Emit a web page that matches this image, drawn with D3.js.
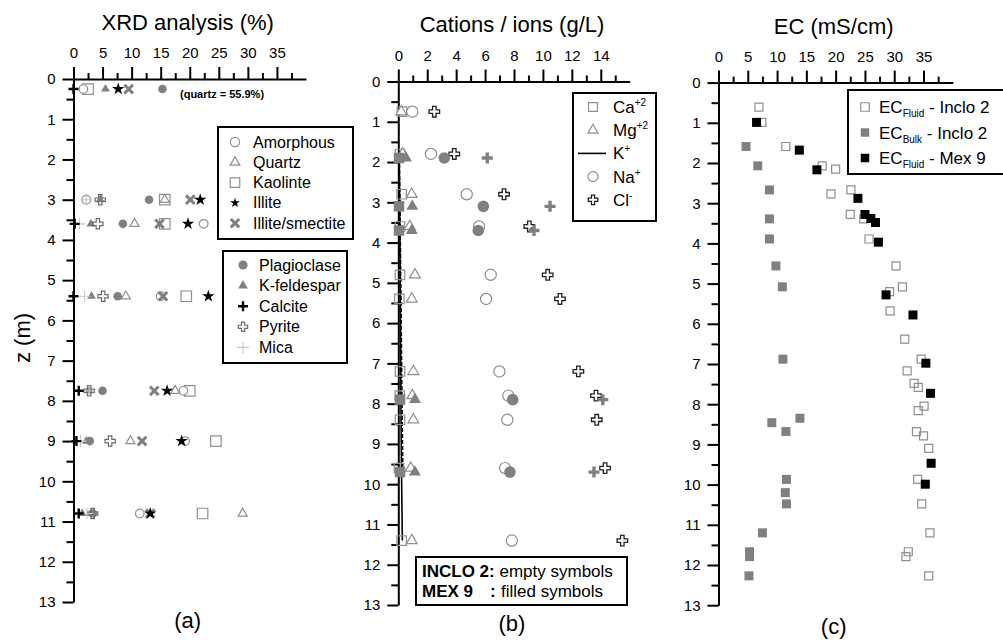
<!DOCTYPE html>
<html><head><meta charset="utf-8">
<script src="https://cdn.jsdelivr.net/npm/d3@7"></script>
<style>
body{margin:0;background:#fff;}
svg{display:block;font-family:"Liberation Sans",Arial,sans-serif;}
</style></head><body>
<svg id="fig" width="1003" height="644"></svg>
<script>
// ---------- (a) XRD mineralogy (%) by depth ----------
const xrdDepth       = [0.25, 3.0, 3.6, 5.4, 7.75, 9.0, 10.8];
const amorphous      = [1.7, 2.2, 22.4, 15.0, 18.9, 19.2, 11.4];
const quartz         = [55.9, 15.7, 10.5, 9.0, 17.5, 9.8, 29.1];
const kaolinite      = [2.5, 15.7, 15.7, 19.4, 20.0, 24.5, 22.2];
const illite         = [7.7, 21.8, 19.7, 23.2, 16.1, 18.6, 13.2];
const illiteSmectite = [9.5, 20.1, 14.8, 15.4, 13.9, 11.8, 13.2];
const plagioclase    = [15.3, 13.0, 8.5, 7.6, 5.0, 2.8, 3.3];
const kFeldspar      = [5.5, 4.6, 3.0, 3.1, 2.7, 2.2, 1.5];
const calcite        = [0.0, null, 0.2, 0.0, 0.9, 0.5, 0.9];
const pyrite         = [null, 4.6, 4.2, 5.1, 2.7, 6.3, 3.3];
const mica           = [null, 2.2, 1.0, 1.9, 2.7, 1.2, 2.3];
const xrdTicks       = [0, 5, 10, 15, 20, 25, 30, 35];

// ---------- (b) cations / ions (g/L) ----------
const incloDepth = [0.75, 1.8, 2.8, 3.6, 4.8, 5.4, 7.2, 7.8, 8.4, 9.6, 11.4];
const caInclo    = [0.25, 0.12, 0.23, 0.12, 0.12, 0.07, 0.12, 0.10, 0.12, 0.05, 0.23];
const mgInclo    = [0.20, 0.30, 0.93, 0.80, 1.15, 0.93, 1.04, 0.97, 1.04, 0.86, 0.93];
const kInclo     = [null, 0.06, 0.09, 0.11, 0.13, 0.14, 0.17, 0.18, 0.19, 0.22, 0.28];
const naInclo    = [0.97, 2.26, 4.73, 5.58, 6.39, 6.07, 6.99, 7.61, 7.54, 7.38, 7.85];
const clInclo    = [2.49, 3.87, 7.31, 9.06, 10.33, 11.18, 12.45, 13.67, 13.72, 14.30, 15.49];
const mexDepth   = [1.9, 3.1, 3.7, 7.9, 9.7];
const caMex      = [0.05, 0.05, 0.05, 0.12, 0.12];
const mgMex      = [0.53, 0.97, 0.93, 1.15, 1.15];
const kMex       = [0.08, 0.12, 0.14, 0.26, 0.32];
const naMex      = [3.18, 5.88, 5.53, 7.91, 7.72];
const clMex      = [6.15, 10.49, 9.38, 14.14, 13.53];
const ionTicks   = [0, 2, 4, 6, 8, 10, 12, 14];

// ---------- (c) electrical conductivity (mS/cm) ----------
const ecFluidIncloDepth = [0.61, 0.99, 1.59, 2.07, 2.15, 2.67, 2.77, 3.28, 3.39, 3.89, 4.56, 5.08, 5.2, 5.68, 6.38,
                           6.88, 7.17, 7.48, 7.58, 8.05, 8.16, 8.68, 8.79, 9.1, 9.87, 10.48, 11.2, 11.67, 11.79, 12.27];
const ecFluidInclo      = [6.9, 7.4, 11.5, 17.7, 20.0, 22.6, 19.2, 22.5, 24.8, 25.7, 30.3, 31.4, 29.2, 29.3, 31.8,
                           34.6, 32.2, 33.4, 34.1, 35.1, 34.1, 33.8, 35.0, 35.9, 34.0, 34.7, 36.1, 32.4, 32.0, 35.9];
const ecBulkIncloDepth  = [1.59, 2.07, 2.67, 3.39, 3.89, 4.56, 5.08, 6.88, 8.35, 8.46, 8.68, 9.87, 10.2, 10.48, 11.2, 11.67, 11.79, 12.27];
const ecBulkInclo       = [4.7, 6.7, 8.7, 8.7, 8.7, 9.8, 10.9, 11.0, 13.9, 9.1, 11.5, 11.6, 11.4, 11.6, 7.5, 5.3, 5.3, 5.2];
const ecFluidMexDepth   = [0.99, 1.68, 2.17, 2.88, 3.28, 3.38, 3.48, 3.97, 5.28, 5.78, 6.98, 7.73, 9.47, 9.99];
const ecFluidMex        = [6.5, 13.8, 16.8, 23.8, 25.0, 26.0, 26.8, 27.3, 28.6, 33.2, 35.4, 36.2, 36.3, 35.3];
const ecTicks           = [0, 5, 10, 15, 20, 25, 30, 35];

const depthTicks = d3.range(0, 14);

const svg = d3.select("#fig");
const GRAY = "#808080", LIGHT = "#8f8f8f", BLACK = "#000";

// ---------- marker factories ----------
function sym(type, size) { return d3.symbol().type(type).size(size)(); }
const plusPath = r => `M${-r},0H${r}M0,${-r}V${r}`;
const xPath = r => `M${-r},${-r}L${r},${r}M${-r},${r}L${r},${-r}`;

const markers = {
  openCircle:  (g, d) => g.append("circle").attr("r", d).attr("fill", "#fff").attr("stroke", LIGHT).attr("stroke-width", 1.2),
  fillCircle:  (g, d) => g.append("circle").attr("r", d).attr("fill", GRAY),
  openTri:     (g, d) => g.append("path").attr("d", sym(d3.symbolTriangle, d)).attr("fill", "#fff").attr("stroke", LIGHT).attr("stroke-width", 1.2),
  fillTri:     (g, d) => g.append("path").attr("d", sym(d3.symbolTriangle, d)).attr("fill", GRAY),
  openSquare:  (g, d) => g.append("path").attr("d", sym(d3.symbolSquare, d)).attr("fill", "none").attr("stroke", LIGHT).attr("stroke-width", 1.2),
  fillSquare:  (g, d) => g.append("path").attr("d", sym(d3.symbolSquare, d)).attr("fill", GRAY),
  blackSquare: (g, d) => g.append("path").attr("d", sym(d3.symbolSquare, d)).attr("fill", BLACK),
  star:        (g, d) => g.append("path").attr("d", sym(d3.symbolStar, d)).attr("fill", BLACK),
  cross:       (g, d) => g.append("path").attr("d", xPath(d)).attr("stroke", GRAY).attr("stroke-width", 3).attr("fill", "none"),
  calcite:     (g, d) => g.append("path").attr("d", plusPath(d)).attr("stroke", BLACK).attr("stroke-width", 2.4).attr("fill", "none"),
  mica:        (g, d) => g.append("path").attr("d", plusPath(d)).attr("stroke", "#c8c8c8").attr("stroke-width", 1.1).attr("fill", "none"),
  pyrite:      (g, d) => g.append("path").attr("d", sym(d3.symbolCross, d)).attr("fill", "none").attr("stroke", "#6a6a6a").attr("stroke-width", 1.2),
  clOpen:      (g, d) => g.append("path").attr("d", sym(d3.symbolCross, d)).attr("fill", "#fff").attr("stroke", "#222").attr("stroke-width", 1.3),
  clFill:      (g, d) => g.append("path").attr("d", plusPath(d)).attr("stroke", GRAY).attr("stroke-width", 3.4).attr("fill", "none")
};

function plotSeries(g, x, y, values, depths, kind, size) {
  const [lo, hi] = x.domain();
  values.forEach((v, i) => {
    if (v == null || v < lo || v > hi) return;
    const m = g.append("g").attr("transform", `translate(${x(v)},${y(depths[i])})`);
    markers[kind](m, size);
  });
}

// ---------- axes ----------
function drawAxes(x, y, majors, minors, title, titleY, caption, captionY) {
  const top = svg.append("g").attr("transform", `translate(0,${y(0)})`);
  top.call(d3.axisTop(x).tickValues(majors).tickSize(12).tickPadding(9).tickSizeOuter(0));
  top.append("g").call(d3.axisTop(x).tickValues(minors).tickSize(6).tickFormat("").tickSizeOuter(0))
     .select(".domain").remove();
  const left = svg.append("g").attr("transform", `translate(${x(0)},0)`);
  left.call(d3.axisLeft(y).tickValues(depthTicks).tickSize(11).tickPadding(7).tickSizeOuter(0));
  left.append("g").call(d3.axisLeft(y).tickValues(d3.range(0.5, 13, 1)).tickSize(7).tickFormat("").tickSizeOuter(0))
      .select(".domain").remove();
  [top, left].forEach(a => {
    a.selectAll("path.domain, line").attr("stroke", "#000").attr("stroke-width", 2);
    a.selectAll("text").attr("font-size", 15).attr("fill", "#000").attr("font-family", "Liberation Sans, Arial, sans-serif");
  });
  const [lo, hi] = x.domain();
  svg.append("text").attr("x", (x(lo) + x(hi)) / 2 - 2).attr("y", titleY).attr("text-anchor", "middle")
     .attr("font-size", 22).text(title);
  svg.append("text").attr("x", (x(lo) + x(hi)) / 2 - 2).attr("y", captionY).attr("text-anchor", "middle")
     .attr("font-size", 22).text(caption);
}

// ================= panel (a) =================
const xA = d3.scaleLinear().domain([0, 40]).range([73.5, 306]);
const yA = d3.scaleLinear().domain([0, 13]).range([79, 602]);
drawAxes(xA, yA, xrdTicks, d3.range(2.5, 40, 5), "XRD analysis (%)", 29.5, "(a)", 628);

const gA = svg.append("g");
plotSeries(gA, xA, yA, kaolinite, xrdDepth, "openSquare", 110);
plotSeries(gA, xA, yA, amorphous, xrdDepth, "openCircle", 4.3);
plotSeries(gA, xA, yA, quartz, xrdDepth, "openTri", 36);
plotSeries(gA, xA, yA, plagioclase, xrdDepth, "fillCircle", 4.3);
plotSeries(gA, xA, yA, kFeldspar, xrdDepth, "fillTri", 34);
plotSeries(gA, xA, yA, illiteSmectite, xrdDepth, "cross", 4.3);
plotSeries(gA, xA, yA, illite, xrdDepth, "star", 48);
plotSeries(gA, xA, yA, pyrite, xrdDepth, "pyrite", 58);
plotSeries(gA, xA, yA, mica, xrdDepth, "mica", 6);
plotSeries(gA, xA, yA, calcite, xrdDepth, "calcite", 5);

// off-scale quartz value noted beside the first sample
svg.append("text").attr("x", 180).attr("y", 98).attr("font-size", 11).attr("font-weight", "bold")
   .text(`(quartz = ${quartz[0]}%)`);

function legendBox(x0, y0, x1, y1) {
  svg.append("rect").attr("x", x0).attr("y", y0).attr("width", x1 - x0).attr("height", y1 - y0)
     .attr("fill", "#fff").attr("stroke", "#000").attr("stroke-width", 2);
}
const legA1 = [["Amorphous", "openCircle", 4.6], ["Quartz", "openTri", 40], ["Kaolinte", "openSquare", 90],
               ["Illite", "star", 30], ["Illite/smectite", "cross", 4.2]];
const legA2 = [["Plagioclase", "fillCircle", 4.6], ["K-feldespar", "fillTri", 40], ["Calcite", "calcite", 5],
               ["Pyrite", "pyrite", 48], ["Mica", "mica", 6]];
legendBox(218, 127, 353, 239);
legA1.forEach(([label, kind, s], i) => {
  const yy = 142 + i * 20.3;
  markers[kind](svg.append("g").attr("transform", `translate(235,${yy})`), s);
  svg.append("text").attr("x", 253).attr("y", yy + 5.5).attr("font-size", 16).text(label);
});
legendBox(223, 251, 347, 363);
legA2.forEach(([label, kind, s], i) => {
  const yy = 265 + i * 20.6;
  markers[kind](svg.append("g").attr("transform", `translate(243,${yy})`), s);
  svg.append("text").attr("x", 259).attr("y", yy + 5.5).attr("font-size", 16).text(label);
});

// y-axis title
svg.append("text").attr("transform", "translate(30,338) rotate(-90)").attr("text-anchor", "middle")
   .attr("font-size", 22).text("z (m)");

// ================= panel (b) =================
const xB = d3.scaleLinear().domain([0, 16]).range([398.3, 629.7]);
const yB = d3.scaleLinear().domain([0, 13]).range([81.5, 605]);
drawAxes(xB, yB, ionTicks, d3.range(1, 16, 2), "Cations / ions (g/L)", 32, "(b)", 631);

const gB = svg.append("g");
// K+ profiles drawn as lines
const kLine = d3.line().defined(d => d[0] != null).x(d => xB(d[0])).y(d => yB(d[1]));
gB.append("path").attr("d", kLine(kInclo.map((v, i) => [v, incloDepth[i]])))
  .attr("fill", "none").attr("stroke", "#000").attr("stroke-width", 1.6);
gB.append("path").attr("d", kLine(kMex.map((v, i) => [v, mexDepth[i]])))
  .attr("fill", "none").attr("stroke", "#000").attr("stroke-width", 1.4).attr("stroke-dasharray", "4,2");
plotSeries(gB, xB, yB, caInclo, incloDepth, "openSquare", 90);
plotSeries(gB, xB, yB, mgInclo, incloDepth, "openTri", 50);
plotSeries(gB, xB, yB, naInclo, incloDepth, "openCircle", 5.6);
plotSeries(gB, xB, yB, clInclo, incloDepth, "clOpen", 62);
plotSeries(gB, xB, yB, caMex, mexDepth, "fillSquare", 110);
plotSeries(gB, xB, yB, mgMex, mexDepth, "fillTri", 62);
plotSeries(gB, xB, yB, naMex, mexDepth, "fillCircle", 5.8);
plotSeries(gB, xB, yB, clMex, mexDepth, "clFill", 5.5);

legendBox(573, 93, 656, 221);
const legB = [["Ca", "+2", "openSquare", 80], ["Mg", "+2", "openTri", 45], ["K", "+", "line", 0],
              ["Na", "+", "openCircle", 5], ["Cl", "-", "clOpen", 50]];
legB.forEach(([base, sup, kind, s], i) => {
  const yy = 107 + i * 23.2;
  if (kind === "line") {
    svg.append("line").attr("x1", 578).attr("x2", 606).attr("y1", yy).attr("y2", yy)
       .attr("stroke", "#000").attr("stroke-width", 1.6);
  } else {
    markers[kind](svg.append("g").attr("transform", `translate(593,${yy})`), s);
  }
  const t = svg.append("text").attr("x", 613).attr("y", yy + 6).attr("font-size", 17);
  t.append("tspan").text(base);
  t.append("tspan").attr("dy", -7).attr("font-size", 10).text(sup);
});

// sample key
legendBox(416, 557, 627, 605);
const k1 = svg.append("text").attr("x", 422).attr("y", 577).attr("font-size", 17);
k1.append("tspan").attr("font-weight", "bold").text("INCLO 2:");
k1.append("tspan").text(" empty symbols");
const k2 = svg.append("text").attr("x", 422).attr("y", 597).attr("font-size", 17);
k2.append("tspan").attr("font-weight", "bold").text("MEX 9");
k2.append("tspan").attr("x", 490).attr("font-weight", "bold").text(":");
k2.append("tspan").attr("x", 501).text("filled symbols");

// ================= panel (c) =================
const xC = d3.scaleLinear().domain([0, 40]).range([718.5, 952.8]);
const yC = d3.scaleLinear().domain([0, 13]).range([82.6, 605.2]);
drawAxes(xC, yC, ecTicks, d3.range(2.5, 40, 5), "EC (mS/cm)", 34, "(c)", 634);

const gC = svg.append("g");
plotSeries(gC, xC, yC, ecFluidInclo, ecFluidIncloDepth, "openSquare", 64);
plotSeries(gC, xC, yC, ecBulkInclo, ecBulkIncloDepth, "fillSquare", 81);
plotSeries(gC, xC, yC, ecFluidMex, ecFluidMexDepth, "blackSquare", 81);

legendBox(848, 90, 1012, 174);
const legC = [["Fluid", " - Inclo 2", "openSquare"], ["Bulk", " - Inclo 2", "fillSquare"], ["Fluid", " - Mex 9", "blackSquare"]];
legC.forEach(([sub, rest, kind], i) => {
  const yy = 107 + i * 25.5;
  markers[kind](svg.append("g").attr("transform", `translate(865,${yy})`), 72);
  const t = svg.append("text").attr("x", 879).attr("y", yy + 6).attr("font-size", 17);
  t.append("tspan").text("EC");
  t.append("tspan").attr("dy", 4).attr("font-size", 10).text(sub);
  t.append("tspan").attr("dy", -4).text(rest);
});
</script>
</body></html>
